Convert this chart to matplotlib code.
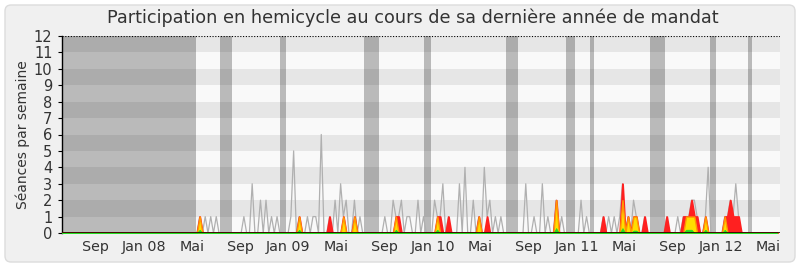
import datetime as dt
import numpy as np
import matplotlib.pyplot as plt
from matplotlib.patches import FancyBboxPatch

plt.rcParams['font.family'] = ['DejaVu Sans']

# weeks counted from the start of the legislature
start = dt.date(2007, 6, 6)
n_weeks = 260

# total seances per week (grey line)
grey_weeks = [50, 52, 54, 56,
              66, 69, 72, 74, 76, 78,
              83, 84, 86, 89, 91, 92, 94, 97, 99, 101, 102, 103, 106, 108,
              117, 120, 121, 122, 123, 125, 126, 129, 131,
              135, 136, 137, 138, 140, 144, 146, 149, 151, 153, 154, 155, 157, 159,
              168, 171, 174, 176, 179, 181,
              188, 190,
              196, 198, 200, 202, 203, 205, 207, 208, 211,
              219, 223, 225, 226, 227, 228, 229, 230, 233, 234,
              240, 241, 242, 243, 244, 245]
grey_vals = [1, 1, 1, 1,
             1, 3, 2, 2, 1, 1,
             1, 5, 1, 1, 1, 1, 6, 1, 2, 3, 1, 2, 2, 1,
             1, 2, 1, 1, 2, 1, 1, 2, 1,
             2, 1, 1, 3, 1, 3, 4, 2, 1, 4, 1, 2, 1, 1,
             3, 1, 3, 1, 2, 1,
             2, 1,
             1, 1, 1, 1, 3, 1, 2, 1, 1,
             1, 1, 1, 1, 1, 2, 2, 1, 1, 4,
             1, 1, 2, 1, 3, 1]

# presences (red)
red_weeks = [50, 86, 97, 102, 106, 121, 122, 136, 137, 140, 151, 154, 179,
             196, 203, 205, 207, 208, 211, 219, 225, 226, 227, 228, 229, 230,
             233, 240, 241, 242, 243, 244, 245]
red_vals = [1, 1, 1, 1, 1, 1, 1, 1, 1, 1, 1, 1, 2,
            1, 3, 1, 1, 1, 1, 1, 1, 1, 1, 2, 1, 1,
            1, 1, 1, 2, 1, 1, 1]

# participations (yellow)
yel_weeks = [50, 86, 102, 106, 121, 136, 151, 179, 203, 205, 207, 208,
             226, 227, 228, 229, 233, 240]
yel_vals = [1, 1, 1, 1, 1, 1, 1, 2, 2, 1, 1, 1,
            1, 1, 1, 1, 1, 1]

# interventions (green)
green_weeks = [50, 86, 121, 136, 179, 203, 207, 208, 226, 227, 228, 233, 240]
green_vals = [0.2, 0.2, 0.2, 0.2, 0.3, 0.3, 0.15, 0.15, 0.2, 0.2, 0.2, 0.2, 0.2]

# vacations / periods outside mandate (in weeks)
vac_start = [0, 57.3, 79, 109.4, 131.1, 160.8, 182.5, 191.2, 212.9, 234.6, 248.3]
vac_end = [48.6, 61.6, 81.2, 114.9, 133.7, 165.2, 185.8, 192.7, 218.4, 236.8, 249.8]

tick_dates = [dt.date(2007, 9, 1), dt.date(2008, 1, 1), dt.date(2008, 5, 1),
              dt.date(2008, 9, 1), dt.date(2009, 1, 1), dt.date(2009, 5, 1),
              dt.date(2009, 9, 1), dt.date(2010, 1, 1), dt.date(2010, 5, 1),
              dt.date(2010, 9, 1), dt.date(2011, 1, 1), dt.date(2011, 5, 1),
              dt.date(2011, 9, 1), dt.date(2012, 1, 1), dt.date(2012, 5, 1)]
tick_labels = ["Sep", "Jan 08", "Mai", "Sep", "Jan 09", "Mai", "Sep", "Jan 10",
               "Mai", "Sep", "Jan 11", "Mai", "Sep", "Jan 12", "Mai"]


def full(weeks, vals):
    arr = np.zeros(n_weeks)
    arr[weeks] = vals
    return arr


x = np.arange(n_weeks)
grey = full(grey_weeks, grey_vals)
red = full(red_weeks, red_vals)
yel = full(yel_weeks, yel_vals)
green = full(green_weeks, green_vals)

fig = plt.figure(figsize=(8, 2.67), dpi=100)
fig.patch.set_facecolor("white")
bg = FancyBboxPatch((5, 5), 790, 257, boxstyle="round,pad=0,rounding_size=6",
                    transform=None, facecolor="#f0f0f0", edgecolor="#dcdcdc",
                    linewidth=1, zorder=-5)
fig.patches.append(bg)

ax = fig.add_axes([61.5 / 800, 34 / 267, 718.5 / 800, 197 / 267])
ax.set_zorder(1)
ax.set_facecolor("#f9f9f9")
for k in range(1, 12, 2):
    ax.axhspan(k, k + 1, color="#e6e6e6", lw=0, zorder=0)
for a, b in zip(vac_start, vac_end):
    ax.axvspan(a, b, color="black", alpha=0.25, lw=0, zorder=1)

ax.plot(x, grey, color="#b0b0b0", lw=0.9, zorder=2)
ax.fill_between(x, 0, red, facecolor="#ff2020", edgecolor="#ff2020", lw=1.4, zorder=3)
ax.fill_between(x, 0, yel, facecolor="#ffdd00", edgecolor="#ff9900", lw=1.0, zorder=4)
ax.fill_between(x, 0, green, facecolor="#22dd22", edgecolor="#22dd22", lw=0.5, zorder=5)

ax.axhline(12, color="black", lw=0.8, ls=(0, (1, 1.5)), zorder=6)
ax.axhline(0, color="#200000", lw=1.2, zorder=6)

ax.set_xlim(0, n_weeks)
ax.set_ylim(0, 12)
ax.set_yticks(range(0, 13))
ticks = [(d - start).days / 7 for d in tick_dates]
ax.set_xticks(ticks)
ax.set_xticklabels(tick_labels)
ax.tick_params(axis="y", length=3, width=0.8, pad=3.5, labelsize=10.5, labelcolor="#333333")
ax.tick_params(axis="x", length=0, pad=5, labelsize=10.3, labelcolor="#333333")
for s in ["top", "right", "bottom"]:
    ax.spines[s].set_visible(False)
ax.spines["left"].set_linewidth(1)
ax.set_ylabel("Séances par semaine", fontsize=10, color="#333333", labelpad=3)

fig.text(413 / 800, 1 - 18 / 267, "Participation en hemicycle au cours de sa dernière année de mandat",
         ha="center", va="center", fontsize=12.7, color="#333333")

fig.savefig("out.png", dpi=100)
